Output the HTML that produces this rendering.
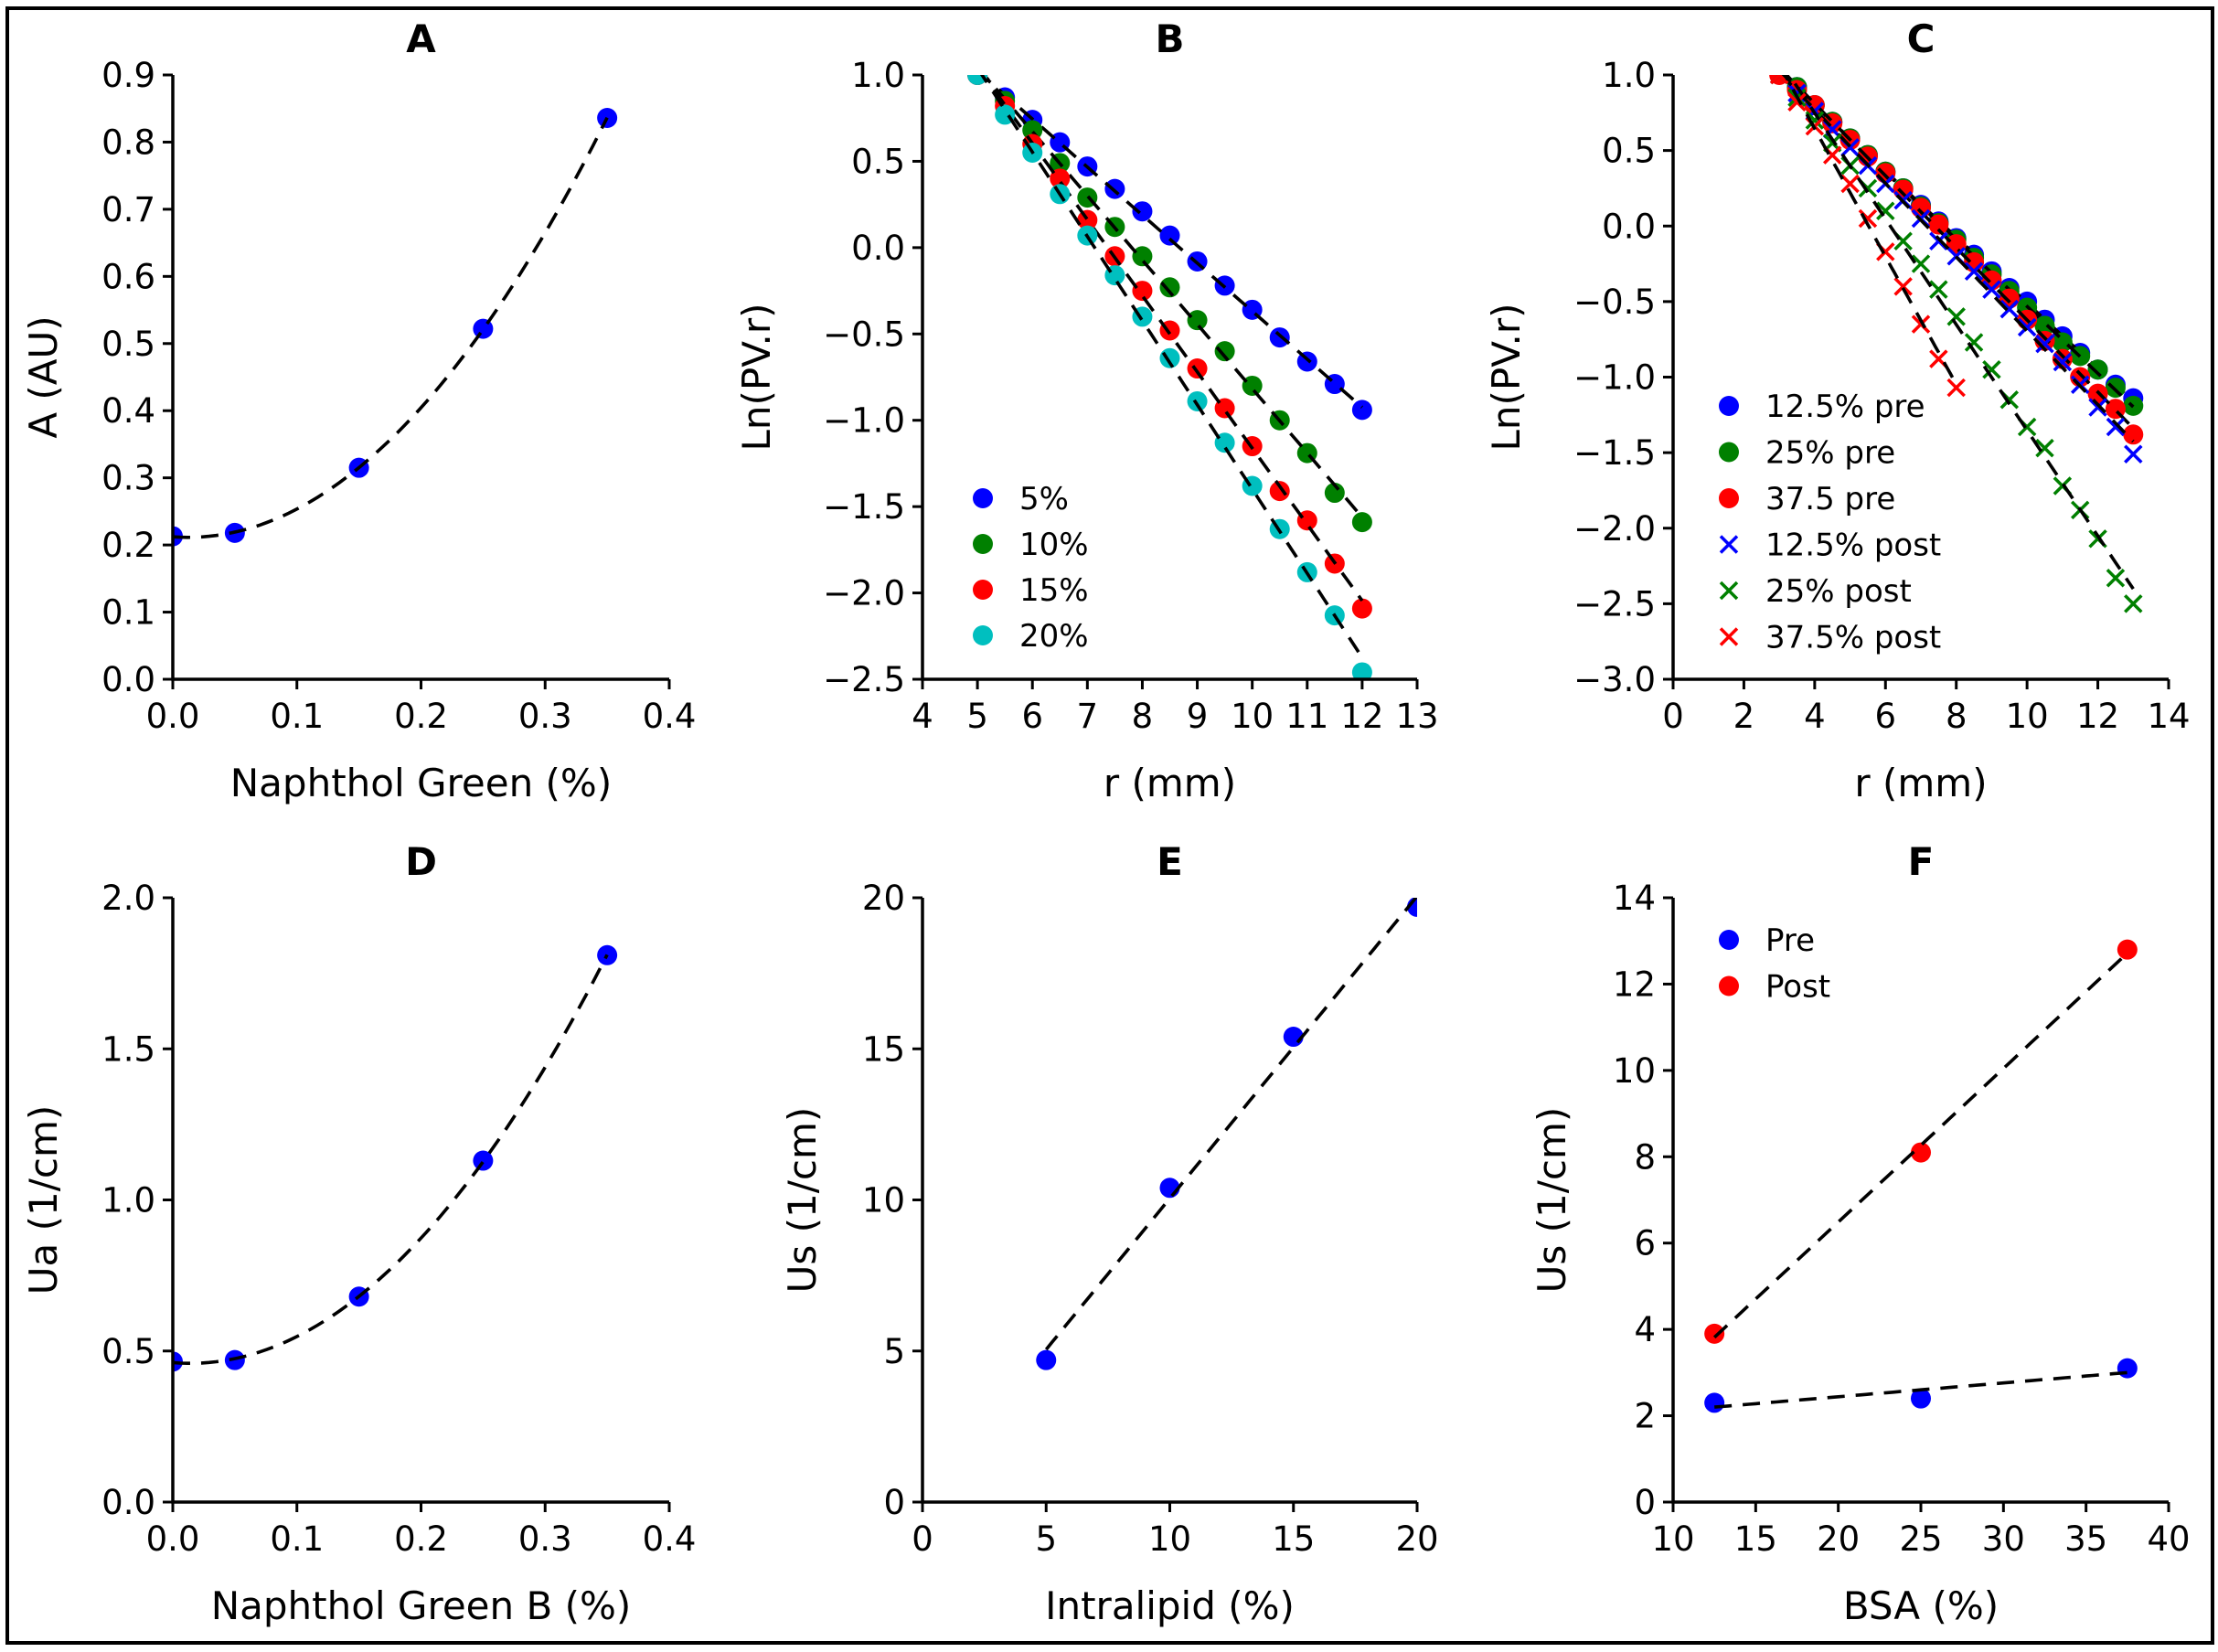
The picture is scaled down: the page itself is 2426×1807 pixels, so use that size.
<!DOCTYPE html>
<html><head><meta charset="utf-8"><style>
html,body{margin:0;padding:0;background:#fff}
svg text{font-family:"DejaVu Sans","Liberation Sans",sans-serif;fill:#000}
</style></head><body>
<svg id="fig" width="2426" height="1802" viewBox="0 0 2426 1802" xmlns="http://www.w3.org/2000/svg">
<rect x="8" y="9" width="2412" height="1788" fill="#fff" stroke="#000" stroke-width="4"/>
</svg>
<script>
// ---- data ----
const aX=[0,0.05,0.15,0.25,0.35];
const aY=[0.213,0.218,0.315,0.522,0.836];
const dX=[0,0.05,0.15,0.25,0.35];
const dY=[0.465,0.47,0.68,1.13,1.81];
const eX=[5,10,15,20];
const eY=[4.7,10.4,15.4,19.7];
const fX=[12.5,25,37.5];
const fPre=[2.3,2.4,3.1];
const fPost=[3.9,8.1,12.8];
const bR=[5,5.5,6,6.5,7,7.5,8,8.5,9,9.5,10,10.5,11,11.5,12];
const b5=[1.0,0.87,0.74,0.61,0.47,0.34,0.21,0.07,-0.08,-0.22,-0.36,-0.52,-0.66,-0.79,-0.94];
const b10=[1.0,0.85,0.68,0.49,0.29,0.12,-0.05,-0.23,-0.42,-0.60,-0.80,-1.00,-1.19,-1.42,-1.59];
const b15=[1.0,0.82,0.60,0.40,0.16,-0.05,-0.25,-0.48,-0.70,-0.93,-1.15,-1.41,-1.58,-1.83,-2.09];
const b20=[1.0,0.77,0.55,0.31,0.07,-0.16,-0.40,-0.64,-0.89,-1.13,-1.38,-1.63,-1.88,-2.13,-2.46];
const cR=[3,3.5,4,4.5,5,5.5,6,6.5,7,7.5,8,8.5,9,9.5,10,10.5,11,11.5,12,12.5,13];
const cPre12=[1.02,0.92,0.8,0.69,0.58,0.47,0.36,0.25,0.14,0.03,-0.08,-0.19,-0.30,-0.41,-0.50,-0.62,-0.73,-0.84,-0.95,-1.05,-1.14];
const cPre25=[1.02,0.92,0.8,0.69,0.58,0.47,0.36,0.25,0.13,0.02,-0.09,-0.21,-0.32,-0.43,-0.54,-0.66,-0.77,-0.86,-0.95,-1.07,-1.19];
const cPre37=[1.0,0.9,0.8,0.68,0.57,0.46,0.35,0.24,0.12,0.01,-0.12,-0.24,-0.36,-0.48,-0.62,-0.76,-0.88,-1.0,-1.11,-1.21,-1.38];
const cPost12=[1.0,0.88,0.76,0.64,0.52,0.40,0.28,0.17,0.05,-0.1,-0.2,-0.3,-0.42,-0.55,-0.67,-0.78,-0.9,-1.05,-1.2,-1.33,-1.51];
const cPost25=[1.0,0.85,0.7,0.55,0.4,0.25,0.1,-0.1,-0.25,-0.42,-0.6,-0.77,-0.95,-1.15,-1.33,-1.47,-1.72,-1.88,-2.07,-2.33,-2.5];
const cR37=[3,3.5,4,4.5,5,5.5,6,6.5,7,7.5,8];
const cPost37=[1.0,0.82,0.66,0.47,0.28,0.05,-0.17,-0.4,-0.65,-0.88,-1.07];

const aXt=[0,0.1,0.2,0.3,0.4], aYt=[0,0.1,0.2,0.3,0.4,0.5,0.6,0.7,0.8,0.9];
const bXt=[4,5,6,7,8,9,10,11,12,13], bYt=[-2.5,-2,-1.5,-1,-0.5,0,0.5,1];
const cXt=[0,2,4,6,8,10,12,14], cYt=[-3,-2.5,-2,-1.5,-1,-0.5,0,0.5,1];
const dYt=[0,0.5,1,1.5,2];
const eXt=[0,5,10,15,20], eYt=[0,5,10,15,20];
const fXt=[10,15,20,25,30,35,40], fYt=[0,2,4,6,8,10,12,14];

const NS="http://www.w3.org/2000/svg";
const svg=document.getElementById('fig');
function mk(tag,attrs,parent){const e=document.createElementNS(NS,tag);for(const k in attrs)e.setAttribute(k,attrs[k]);(parent||svg).appendChild(e);return e;}
const COL={b:'#0000ff',g:'#008000',r:'#ff0000',c:'#00bfbf'};
let clipN=0;

function panel(o){
  const g=mk('g',{});
  
  
  const sx=v=>o.x0+(v-o.xmin)/(o.xmax-o.xmin)*(o.x1-o.x0);
  const sy=v=>o.y1-(v-o.ymin)/(o.ymax-o.ymin)*(o.y1-o.y0);
  const id='clip'+(clipN++);
  const cp=mk('clipPath',{id:id},g);
  mk('rect',{x:o.x0,y:o.y0,width:o.x1-o.x0,height:o.y1-o.y0},cp);
  const plot=mk('g',{'clip-path':'url(#'+id+')'},g);
  const t=mk('text',{x:(o.x0+o.x1)/2,y:o.y0-25,'text-anchor':'middle','font-size':'42','font-weight':'bold'},g);
  t.textContent=o.title;
  
  
  o.xt.forEach(v=>{
    mk('line',{x1:sx(v),x2:sx(v),y1:o.y1,y2:o.y1+11,stroke:'#000','stroke-width':3},g);
    const l=mk('text',{x:sx(v),y:o.y1+53,'text-anchor':'middle','font-size':'37'},g);
    l.textContent=o.xf(v);
    
    
  });
  o.yt.forEach(v=>{
    mk('line',{x1:o.x0-11,x2:o.x0,y1:sy(v),y2:sy(v),stroke:'#000','stroke-width':3},g);
    const l=mk('text',{x:o.x0-19,y:sy(v)+13,'text-anchor':'end','font-size':'37'},g);
    l.textContent=o.yf(v).replace('-','\u2212');
    
    
  });
  const sp=mk('path',{d:`M${o.x0} ${o.y0}V${o.y1}H${o.x1}`,fill:'none',stroke:'#000','stroke-width':3.5},g);
  
  
  const xl=mk('text',{x:(o.x0+o.x1)/2,y:o.y1+128,'text-anchor':'middle','font-size':'42'},g);
  xl.textContent=o.xlabel;
  
  
  const yl=mk('text',{x:0,y:0,'text-anchor':'middle','font-size':'42',transform:`translate(${o.ylx},${(o.y0+o.y1)/2}) rotate(-90)`},g);
  yl.textContent=o.ylabel;
  
  
  return {g,plot,sx,sy};
}
function dots(P,xs,ys,col,name){
  xs.forEach((x,i)=>{
    const c=mk('circle',{cx:P.sx(x),cy:P.sy(ys[i]),r:11,fill:col},P.plot);
    
    
  });
}
function crosses(P,xs,ys,col,name){
  xs.forEach((x,i)=>{
    const X=P.sx(x),Y=P.sy(ys[i]),s=9;
    const p=mk('path',{d:`M${X-s} ${Y-s}L${X+s} ${Y+s}M${X-s} ${Y+s}L${X+s} ${Y-s}`,stroke:col,'stroke-width':3.5,fill:'none'},P.plot);
    
    
  });
}
function fitPoly(xs,ys,deg){
  const n=deg+1,M=[],B=[];
  for(let i=0;i<n;i++){M.push(new Array(n).fill(0));B.push(0);}
  xs.forEach((x,k)=>{for(let i=0;i<n;i++){B[i]+=ys[k]*Math.pow(x,i);for(let j=0;j<n;j++)M[i][j]+=Math.pow(x,i+j);}});
  for(let i=0;i<n;i++){for(let r=i+1;r<n;r++){const f=M[r][i]/M[i][i];for(let c=i;c<n;c++)M[r][c]-=f*M[i][c];B[r]-=f*B[i];}}
  const cf=new Array(n).fill(0);
  for(let i=n-1;i>=0;i--){let s=B[i];for(let j=i+1;j<n;j++)s-=M[i][j]*cf[j];cf[i]=s/M[i][i];}
  return x=>cf.reduce((a,c,i)=>a+c*Math.pow(x,i),0);
}
function fitLine(P,xs,ys,deg,name){
  const f=fitPoly(xs,ys,deg);
  const a=xs[0],b=xs[xs.length-1];let d='';
  for(let i=0;i<=60;i++){const x=a+(b-a)*i/60;d+=(i?'L':'M')+P.sx(x).toFixed(1)+' '+P.sy(f(x)).toFixed(1);}
  const p=mk('path',{d:d,fill:'none',stroke:'#000','stroke-width':3.6,'stroke-dasharray':'19 12'},P.plot);
  
  
}
function legend(P,x,y,items,dy){
  const lg=mk('g',{},P.g);
  
  
  items.forEach((it,i)=>{
    const Y=y+i*dy;
    if(it[2]==='x'){const s=9;mk('path',{d:`M${x-s} ${Y-s}L${x+s} ${Y+s}M${x-s} ${Y+s}L${x+s} ${Y-s}`,stroke:it[1],'stroke-width':3.5},lg);}
    else mk('circle',{cx:x,cy:Y,r:11,fill:it[1]},lg);
    const t=mk('text',{x:x+40,y:Y+12,'font-size':'34'},lg);
    t.textContent=it[0];
    
    
  });
}
const f1=v=>v.toFixed(1), f0=v=>String(v);
const L=189,R=732,L2=1009,R2=1550,L3=1830,R3=2372,T1=82,B1=743,T2=982,B2=1643;

let P=panel({name:'panel-a',title:'A',x0:L,x1:R,y0:T1,y1:B1,xmin:0,xmax:0.4,ymin:0,ymax:0.9,xt:aXt,yt:aYt,xf:f1,yf:f1,xlabel:'Naphthol Green (%)',ylabel:'A (AU)',ylx:62});
dots(P,aX,aY,COL.b,'point-a');fitLine(P,aX,aY,2,'fit-a');
P=panel({name:'panel-b',title:'B',x0:L2,x1:R2,y0:T1,y1:B1,xmin:4,xmax:13,ymin:-2.5,ymax:1,xt:bXt,yt:bYt,xf:f0,yf:f1,xlabel:'r (mm)',ylabel:'Ln(PV.r)',ylx:842});
[[b5,COL.b,'5%'],[b10,COL.g,'10%'],[b15,COL.r,'15%'],[b20,COL.c,'20%']].forEach(s=>{dots(P,bR,s[0],s[1],'point-b-'+s[2]);fitLine(P,bR,s[0],1,'fit-b-'+s[2]);});
legend(P,1075,545,[['5%',COL.b],['10%',COL.g],['15%',COL.r],['20%',COL.c]],50);
P=panel({name:'panel-c',title:'C',x0:L3,x1:R3,y0:T1,y1:B1,xmin:0,xmax:14,ymin:-3,ymax:1,xt:cXt,yt:cYt,xf:f0,yf:f1,xlabel:'r (mm)',ylabel:'Ln(PV.r)',ylx:1662});
dots(P,cR,cPre12,COL.b,'point-c-12-pre');fitLine(P,cR,cPre12,1,'fit-c-12-pre');
dots(P,cR,cPre25,COL.g,'point-c-25-pre');fitLine(P,cR,cPre25,1,'fit-c-25-pre');
dots(P,cR,cPre37,COL.r,'point-c-37-pre');fitLine(P,cR,cPre37,1,'fit-c-37-pre');
crosses(P,cR,cPost12,COL.b,'point-c-12-post');fitLine(P,cR,cPost12,1,'fit-c-12-post');
crosses(P,cR,cPost25,COL.g,'point-c-25-post');fitLine(P,cR,cPost25,1,'fit-c-25-post');
crosses(P,cR37,cPost37,COL.r,'point-c-37-post');fitLine(P,cR37,cPost37,1,'fit-c-37-post');
legend(P,1891,444,[['12.5% pre',COL.b],['25% pre',COL.g],['37.5 pre',COL.r],['12.5% post',COL.b,'x'],['25% post',COL.g,'x'],['37.5% post',COL.r,'x']],50.5);
P=panel({name:'panel-d',title:'D',x0:L,x1:R,y0:T2,y1:B2,xmin:0,xmax:0.4,ymin:0,ymax:2,xt:aXt,yt:dYt,xf:f1,yf:f1,xlabel:'Naphthol Green B (%)',ylabel:'Ua (1/cm)',ylx:62});
dots(P,dX,dY,COL.b,'point-d');fitLine(P,dX,dY,2,'fit-d');
P=panel({name:'panel-e',title:'E',x0:L2,x1:R2,y0:T2,y1:B2,xmin:0,xmax:20,ymin:0,ymax:20,xt:eXt,yt:eYt,xf:f0,yf:f0,xlabel:'Intralipid (%)',ylabel:'Us (1/cm)',ylx:892});
dots(P,eX,eY,COL.b,'point-e');fitLine(P,eX,eY,1,'fit-e');
P=panel({name:'panel-f',title:'F',x0:L3,x1:R3,y0:T2,y1:B2,xmin:10,xmax:40,ymin:0,ymax:14,xt:fXt,yt:fYt,xf:f0,yf:f0,xlabel:'BSA (%)',ylabel:'Us (1/cm)',ylx:1712});
dots(P,fX,fPre,COL.b,'point-f-pre');fitLine(P,fX,fPre,1,'fit-f-pre');
dots(P,fX,fPost,COL.r,'point-f-post');fitLine(P,fX,fPost,1,'fit-f-post');
legend(P,1891,1028,[['Pre',COL.b],['Post',COL.r]],50.5);
</script>
</body></html>
